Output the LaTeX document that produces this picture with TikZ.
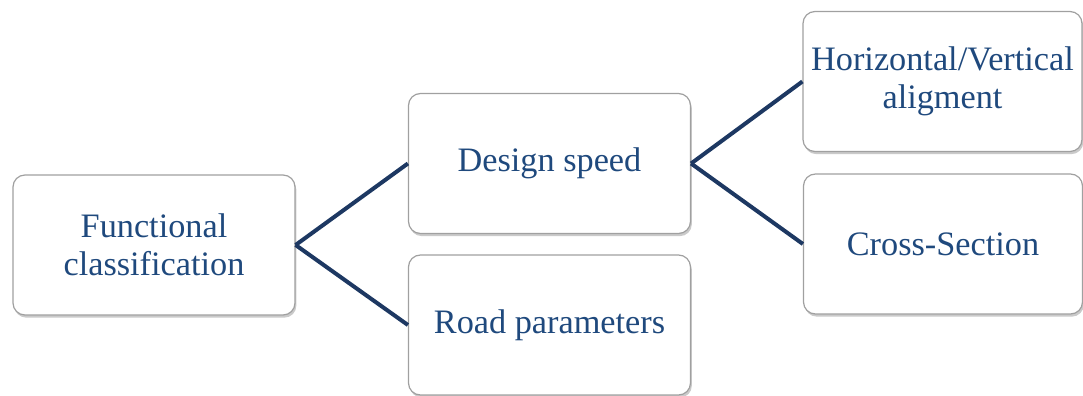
\documentclass[tikz,border=0pt]{standalone}
\usepackage{fontspec}
\setmainfont{Liberation Serif}
\usetikzlibrary{shadows}

\definecolor{boxtext}{RGB}{31,73,125}
\definecolor{linknavy}{RGB}{29,56,98}
\definecolor{boxedge}{RGB}{160,160,160}

\tikzset{every picture/.style={line width=0.75pt}}
\tikzset{
	roundbox/.style={draw=boxedge, line width=0.9pt, fill=white, rounded corners=9pt,
		minimum width=211.5pt, minimum height=105pt, inner sep=2pt, align=center,
		text=boxtext, font=\fontsize{25.7}{28.5}\selectfont,
		drop shadow={shadow xshift=1pt, shadow yshift=-2pt, opacity=0.35, fill=black!60}},
	link/.style={draw=linknavy, line width=3pt}
}

\begin{document}
\begin{tikzpicture}[x=0.75pt,y=0.75pt,yscale=-1,xscale=1]
	\useasboundingbox (0,0) rectangle (1083,396);

	% Text Node
	\node[roundbox] (func) at (154,245) {Functional\\classification};
	% Text Node
	\node[roundbox] (speed) at (549.5,163.5) {Design speed};
	% Text Node
	\node[roundbox] (road) at (549.5,325) {Road parameters};
	% Text Node
	\node[roundbox, minimum width=209.25pt] (align) at (942.5,81.5) {Horizontal/Vertical\\aligment};
	% Text Node
	\node[roundbox, minimum width=209.25pt] (cross) at (943,244) {Cross-Section};

	% Straight Lines
	\draw[link] (func.east) -- (speed.west);
	\draw[link] (func.east) -- (road.west);
	% Straight Lines
	\draw[link] (speed.east) -- (align.west);
	\draw[link] (speed.east) -- (cross.west);

\end{tikzpicture}
\end{document}
